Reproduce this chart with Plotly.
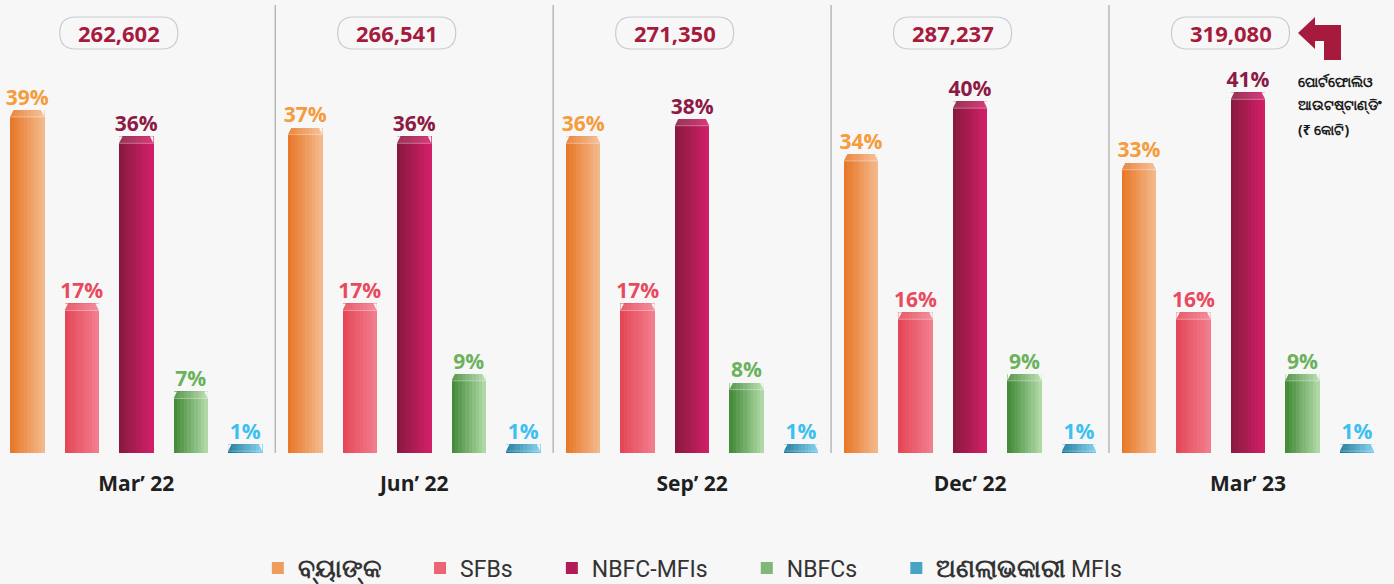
import plotly.graph_objects as go

# ---------------- data ----------------
periods = ["Mar’ 22", "Jun’ 22", "Sep’ 22", "Dec’ 22", "Mar’ 23"]
totals = [262602, 266541, 271350, 287237, 319080]
banks = [39, 37, 36, 34, 33]
sfbs = [17, 17, 17, 16, 16]
nbfc_mfis = [36, 36, 38, 40, 41]
nbfcs = [7, 9, 8, 9, 9]
nonprofit_mfis = [1, 1, 1, 1, 1]
series_names = ["<span style='font-size:25px'><b>ବ୍ୟାଙ୍କ</b></span>", "SFBs", "NBFC-MFIs", "NBFCs",
                "<span style='font-size:25px'><b>ଅଣଲାଭକାରୀ</b></span> MFIs"]
note_lines = ["ପୋର୍ଟଫୋଲିଓ", "ଆଉଟଷ୍ଟାଣ୍ଡିଂ", "(₹ କୋଟି)"]

# ---------------- styles ----------------
W, H = 1394, 584
MT, MB = 0, 131
PLOT_H = H - MT - MB
GROUP_STEP = 5.1
BAR_W = 0.63
N_SLICES = 10
X_RANGE = [-0.5, 25.08]
Y_RANGE = [0, 51.5]
grad = [("#e8792a", "#f3b88a"), ("#e44858", "#f27d8d"), ("#8a1941", "#d01f66"),
        ("#468c3a", "#afd8a6"), ("#12739a", "#74c9e8")]
label_colors = ["#f59c3c", "#e84a60", "#8c1a45", "#6ab25c", "#3cc0f0"]
BG = "#f7f7f7"
CRIMSON = "#a61a3e"
LEGEND_PAD = "\u00a0" * 6


def mix(c0, c1, t):
    a = [int(c0[i:i + 2], 16) for i in (1, 3, 5)]
    b = [int(c1[i:i + 2], 16) for i in (1, 3, 5)]
    return "#" + "".join(f"{round(a[k] + (b[k] - a[k]) * t):02x}" for k in range(3))


def px2paper(x, y):
    return x / W, (PLOT_H - y) / PLOT_H


px_per_unit = W / (X_RANGE[1] - X_RANGE[0])
py_per_unit = PLOT_H / (Y_RANGE[1] - Y_RANGE[0])

fig = go.Figure()
shapes = []
annotations = []
all_series = [banks, sfbs, nbfc_mfis, nbfcs, nonprofit_mfis]
for i, (name, vals) in enumerate(zip(series_names, all_series)):
    xs = [g * GROUP_STEP + i for g in range(len(periods))]
    sw = BAR_W / N_SLICES
    label = name + (LEGEND_PAD if i < len(series_names) - 1 else "")
    for j in range(N_SLICES):
        t = j / (N_SLICES - 1)
        fig.add_bar(
            x=xs, y=vals, width=sw * 1.05, offset=-BAR_W / 2 + j * sw,
            marker=dict(color=mix(grad[i][0], grad[i][1], t), line=dict(width=0)),
            name=label, legendgroup=name, showlegend=(j == N_SLICES // 2),
            hoverinfo="skip",
        )
    fig.add_trace(go.Scatter(
        x=xs, y=vals, mode="text",
        text=[f"{v}%" for v in vals], textposition="top center",
        textfont=dict(family="Open Sans", size=21, color=label_colors[i], weight="bold"),
        showlegend=False, hoverinfo="skip", cliponaxis=False,
    ))
    # bevelled cap at the top of each bar
    cap_h = 7 / py_per_unit
    cut = 3.5 / px_per_unit
    for x, v in zip(xs, vals):
        xl, xr = x - BAR_W / 2, x + BAR_W / 2
        shapes.append(dict(type="path", xref="x", yref="y", layer="above",
                           path=f"M {xl},{v - cap_h} L {xl},{v} L {xl + cut},{v} Z",
                           fillcolor=BG, line=dict(width=0)))
        shapes.append(dict(type="path", xref="x", yref="y", layer="above",
                           path=f"M {xr},{v - cap_h} L {xr},{v} L {xr - cut},{v} Z",
                           fillcolor=BG, line=dict(width=0)))
        shapes.append(dict(type="path", xref="x", yref="y", layer="above",
                           path=f"M {xl},{v - cap_h} L {xl + cut},{v} L {xr - cut},{v} L {xr},{v - cap_h} Z",
                           fillcolor="rgba(255,255,255,0.12)", line=dict(width=0)))
        shapes.append(dict(type="line", xref="x", yref="y", layer="above",
                           x0=xl, x1=xr, y0=v - cap_h, y1=v - cap_h,
                           line=dict(color="rgba(255,255,255,0.35)", width=1)))

# separators
for g in range(len(periods) - 1):
    xm = g * GROUP_STEP + 4 + (GROUP_STEP - 4) / 2
    shapes.append(dict(type="line", xref="x", yref="paper", x0=xm, x1=xm,
                       y0=0, y1=px2paper(0, 5)[1], line=dict(color="#9a9a9a", width=1)))

# total boxes (pill)
for g, tot in enumerate(totals):
    cx = g * GROUP_STEP + 2 - 0.32
    half_w = 59 / px_per_unit
    r_x = 16 / px_per_unit
    cy = px2paper(0, 33)[1]
    half_h = 16 / PLOT_H
    x0, x1 = cx - half_w, cx + half_w
    y0, y1 = cy - half_h, cy + half_h
    path = (f"M {x0 + r_x},{y0} L {x1 - r_x},{y0} Q {x1},{y0} {x1},{cy} "
            f"Q {x1},{y1} {x1 - r_x},{y1} L {x0 + r_x},{y1} Q {x0},{y1} {x0},{cy} "
            f"Q {x0},{y0} {x0 + r_x},{y0} Z")
    shapes.append(dict(type="path", xref="x", yref="paper", path=path,
                       line=dict(color="#c8ccd0", width=1.2), fillcolor=BG, layer="below"))
    annotations.append(dict(x=cx, y=cy, xref="x", yref="paper", text=f"{tot:,}",
                            showarrow=False, xanchor="center", yanchor="middle",
                            font=dict(family="Open Sans", size=22, color=CRIMSON, weight="bold")))

# L-shaped arrow pointing left
pts = [(1298, 33), (1315, 17), (1315, 25), (1341, 25), (1341, 60), (1324, 60),
       (1324, 41), (1315, 41), (1315, 49)]
p = [px2paper(x, y) for x, y in pts]
arrow_path = "M " + " L ".join(f"{a},{b}" for a, b in p) + " Z"
shapes.append(dict(type="path", xref="paper", yref="paper", path=arrow_path,
                   fillcolor=CRIMSON, line=dict(width=0)))
for k, line in enumerate(note_lines):
    nx, ny = px2paper(1296, 81 + 24 * k)
    annotations.append(dict(x=nx, y=ny, xref="paper", yref="paper", text=line,
                            showarrow=False, xanchor="left", yanchor="middle", align="left",
                            font=dict(family="Noto Sans", size=14, color="#1a1a1a", weight="bold")))

fig.update_layout(
    width=W, height=H,
    margin=dict(l=0, r=0, t=MT, b=MB, autoexpand=False),
    paper_bgcolor=BG, plot_bgcolor=BG,
    barmode="overlay", bargap=0,
    shapes=shapes, annotations=annotations,
    xaxis=dict(range=X_RANGE, showgrid=False, zeroline=False, showline=False, automargin=False,
               tickvals=[g * GROUP_STEP + 2 for g in range(len(periods))],
               ticktext=periods, ticks="outside", ticklen=12, tickcolor="rgba(0,0,0,0)",
               tickfont=dict(family="Open Sans", size=21, color="#1f1f1f", weight="bold")),
    yaxis=dict(range=Y_RANGE, visible=False, automargin=False),
    legend=dict(orientation="h", x=0.497, xanchor="center", y=px2paper(0, 568)[1],
                yanchor="middle", font=dict(family="Roboto", size=23, color="#333333"),
                bgcolor="rgba(0,0,0,0)", itemsizing="constant", itemwidth=30),
    showlegend=True,
)

fig.write_html("out.html", config={"displayModeBar": False},
               post_script="document.body.style.margin='0';document.body.style.background='#f7f7f7';")
